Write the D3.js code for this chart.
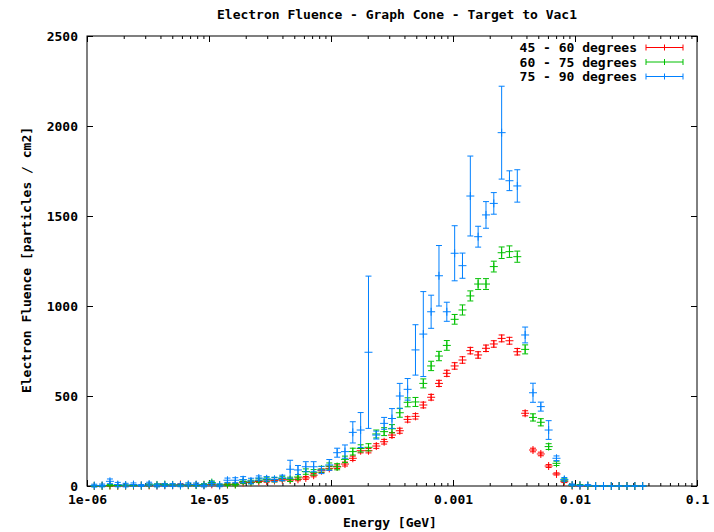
<!DOCTYPE html>
<html><head><meta charset="utf-8">
<script src="https://cdn.jsdelivr.net/npm/d3@7"></script>
<style>
body{margin:0;background:#fff}
text{font-family:"DejaVu Sans Mono","Liberation Mono",monospace;font-size:13px;font-weight:bold;fill:#000}
</style>
</head><body><svg id="c" width="714" height="532"></svg>
<script>
// ---- data ----
const title = "Electron Fluence - Graph Cone - Target to Vac1";
const xLabel = "Energy [GeV]";
const yLabel = "Electron Fluence [particles / cm2]";
const xTickValues = [1e-6, 1e-5, 1e-4, 1e-3, 1e-2, 1e-1];
const xTickLabels = ["1e-06", "1e-05", "0.0001", "0.001", "0.01", "0.1"];
const yTickValues = [0, 500, 1000, 1500, 2000, 2500];
const seriesNames = ["45 - 60 degrees", "60 - 75 degrees", "75 - 90 degrees"];
const seriesColors = ["#ff0000", "#00c000", "#0080ff"];

const energy = [
  1.147e-6, 1.330e-6, 1.542e-6, 1.788e-6, 2.073e-6, 2.404e-6, 2.787e-6, 3.231e-6, 3.746e-6, 4.343e-6,
  5.034e-6, 5.836e-6, 6.766e-6, 7.844e-6, 9.094e-6, 1.054e-5, 1.222e-5, 1.417e-5, 1.643e-5, 1.905e-5,
  2.208e-5, 2.560e-5, 2.968e-5, 3.441e-5, 3.989e-5, 4.626e-5, 5.362e-5, 6.217e-5, 7.207e-5, 8.356e-5,
  9.685e-5, 1.123e-4, 1.302e-4, 1.509e-4, 1.750e-4, 2.029e-4, 2.351e-4, 2.726e-4, 3.161e-4, 3.664e-4,
  4.248e-4, 4.925e-4, 5.710e-4, 6.619e-4, 7.674e-4, 8.899e-4, 1.032e-3, 1.196e-3, 1.387e-3, 1.607e-3,
  1.864e-3, 2.160e-3, 2.505e-3, 2.903e-3, 3.366e-3, 3.903e-3, 4.525e-3, 5.246e-3, 6.081e-3, 7.050e-3,
  8.174e-3, 9.476e-3, 1.098e-2, 1.274e-2, 1.476e-2, 1.712e-2, 1.985e-2, 2.301e-2, 2.668e-2, 3.093e-2,
  3.585e-2
];

const red = [
  0, 1, 2, 1, 2, 2, 2, 3, 2, 4,
  4, 8, 4, 6, 5, 9, 4, 8, 10, 19,
  20, 25, 28, 30, 35, 33, 37, 45, 60, 85,
  98, 107, 122, 154, 196, 196, 222, 246, 283, 307,
  370, 387, 450, 493, 570, 626, 667, 700, 752, 728,
  765, 789, 820, 807, 746, 404, 200, 178, 111, 67,
  24, 2, 1, 0, 0, 0, 0, 0, 0, 0,
  0
];
const redErr = [
  2, 2, 2, 2, 2, 2, 2, 3, 2, 3,
  3, 4, 3, 4, 3, 5, 3, 4, 5, 6,
  6, 6, 7, 7, 7, 7, 8, 8, 9, 10,
  10, 10, 11, 12, 12, 12, 13, 13, 14, 14,
  15, 15, 16, 16, 17, 17, 18, 18, 18, 18,
  18, 18, 19, 19, 18, 14, 10, 10, 8, 6,
  5, 2, 1, 0, 0, 0, 0, 0, 0, 0,
  0
];
const green = [
  1, 1, 4, 3, 3, 4, 2, 6, 6, 8,
  6, 3, 6, 5, 7, 19, 5, 10, 8, 24,
  22, 32, 37, 35, 42, 37, 50, 80, 76, 93,
  111, 107, 148, 191, 209, 215, 289, 302, 318, 407,
  465, 467, 570, 667, 722, 781, 926, 978, 1056, 1122,
  1122, 1219, 1296, 1302, 1274, 759, 381, 354, 219, 126,
  33, 4, 5, 1, 0, 0, 0, 0, 0, 0,
  0
];
const greenErr = [
  3, 3, 4, 3, 3, 4, 3, 5, 6, 6,
  6, 4, 5, 5, 6, 9, 5, 7, 7, 10,
  10, 11, 12, 12, 12, 12, 13, 15, 15, 16,
  17, 17, 18, 19, 20, 20, 22, 22, 23, 25,
  25, 25, 25, 26, 26, 27, 27, 28, 28, 30,
  30, 30, 32, 32, 31, 25, 20, 20, 16, 12,
  7, 3, 3, 1, 0, 0, 0, 0, 0, 0,
  0
];
const blue = [
  2, 3, 26, 8, 5, 8, 3, 11, 3, 5,
  5, 4, 9, 8, 3, 14, 4, 32, 32, 35,
  28, 44, 40, 37, 45, 93, 89, 107, 107, 89,
  117, 185, 191, 298, 311, 743, 283, 348, 375, 500,
  537, 756, 844, 968, 1168, 968, 1293, 1224, 1611, 1385,
  1506, 1570, 1963, 1696, 1667, 839, 518, 441, 311, 154,
  37, 6, 2, 4, 0, 0, 0, 0, 0, 0,
  0
];
const blueErr = [
  8, 8, 13, 12, 10, 9, 5, 10, 8, 8,
  8, 8, 9, 9, 8, 10, 8, 12, 14, 17,
  15, 12, 12, 12, 15, 50, 25, 28, 28, 20,
  30, 25, 37, 59, 97, 423, 22, 33, 55, 70,
  60, 140, 236, 92, 168, 53, 153, 70, 222, 58,
  74, 60, 258, 55, 90, 44, 53, 25, 52, 13,
  10, 5, 3, 4, 0, 0, 0, 0, 0, 0,
  0
];

// ---- layout ----
const W = 714, H = 532;
const L = 87, R = 697, T = 36, B = 486;
const svg = d3.select("#c");
const x = d3.scaleLog().domain([1e-6, 0.1]).range([L, R]);
const y = d3.scaleLinear().domain([0, 2500]).range([B, T]);

const minorTicks = [];
for (let d = -6; d < -1; d++) for (let m = 2; m <= 9; m++) minorTicks.push(m * Math.pow(10, d));

function styleAxis(g) {
  g.select(".domain").remove();
  g.selectAll(".tick line").attr("stroke", "#000");
  g.selectAll(".tick text").attr("fill", "#000").style("font-family", null).style("font-size", null);
  g.attr("font-family", null).attr("font-size", null);
}

// bottom major
svg.append("g").attr("transform", `translate(0,${B})`)
  .call(d3.axisBottom(x).tickValues(xTickValues).tickFormat((d, i) => xTickLabels[i])
    .tickSizeInner(-6).tickSizeOuter(0).tickPadding(9)).call(styleAxis);
// bottom minor
svg.append("g").attr("transform", `translate(0,${B})`)
  .call(d3.axisBottom(x).tickValues(minorTicks).tickFormat(() => "").tickSizeInner(-3).tickSizeOuter(0)).call(styleAxis);
// top mirror
svg.append("g").attr("transform", `translate(0,${T})`)
  .call(d3.axisTop(x).tickValues(xTickValues).tickFormat(() => "").tickSizeInner(-6).tickSizeOuter(0)).call(styleAxis);
svg.append("g").attr("transform", `translate(0,${T})`)
  .call(d3.axisTop(x).tickValues(minorTicks).tickFormat(() => "").tickSizeInner(-3).tickSizeOuter(0)).call(styleAxis);
// left
svg.append("g").attr("transform", `translate(${L},0)`)
  .call(d3.axisLeft(y).tickValues(yTickValues).tickFormat(d3.format("d"))
    .tickSizeInner(-6).tickSizeOuter(0).tickPadding(9)).call(styleAxis);
// right mirror
svg.append("g").attr("transform", `translate(${R},0)`)
  .call(d3.axisRight(y).tickValues(yTickValues).tickFormat(() => "").tickSizeInner(-6).tickSizeOuter(0)).call(styleAxis);

// border
svg.append("rect").attr("x", L).attr("y", T).attr("width", R - L).attr("height", B - T)
  .attr("fill", "none").attr("stroke", "#000").attr("stroke-width", 1);

// titles
svg.append("text").attr("x", 397).attr("y", 19).attr("text-anchor", "middle").text(title);
svg.append("text").attr("x", 390).attr("y", 527).attr("text-anchor", "middle").text(xLabel);
svg.append("text").attr("transform", "translate(31,260) rotate(-90)").attr("text-anchor", "middle").text(yLabel);

// series
const series = [
  {vals: red, errs: redErr},
  {vals: green, errs: greenErr},
  {vals: blue, errs: blueErr}
];
const CAP = 3, PT = 4;
series.forEach((s, si) => {
  const col = seriesColors[si];
  const g = svg.append("g").attr("stroke", col).attr("stroke-width", 1).attr("fill", "none");
  const pts = energy.map((e, i) => ({e, v: s.vals[i], err: s.errs[i]}));
  const p = g.selectAll("g.pt").data(pts).join("g").attr("class", "pt");
  p.append("line").attr("x1", d => x(d.e)).attr("x2", d => x(d.e))
    .attr("y1", d => y(d.v - d.err)).attr("y2", d => y(d.v + d.err));
  p.append("line").attr("x1", d => x(d.e) - CAP).attr("x2", d => x(d.e) + CAP)
    .attr("y1", d => y(d.v + d.err)).attr("y2", d => y(d.v + d.err));
  p.append("line").attr("x1", d => x(d.e) - CAP).attr("x2", d => x(d.e) + CAP)
    .attr("y1", d => y(d.v - d.err)).attr("y2", d => y(d.v - d.err));
  p.append("line").attr("x1", d => x(d.e) - PT).attr("x2", d => x(d.e) + PT)
    .attr("y1", d => y(d.v)).attr("y2", d => y(d.v));
  p.append("line").attr("x1", d => x(d.e)).attr("x2", d => x(d.e))
    .attr("y1", d => y(d.v) - PT).attr("y2", d => y(d.v) + PT);
});

// legend
const legY = [47.5, 62, 76.5];
seriesNames.forEach((n, i) => {
  const col = seriesColors[i];
  svg.append("text").attr("x", 637).attr("y", legY[i]).attr("dy", "0.35em").attr("text-anchor", "end").text(n);
  const g = svg.append("g").attr("stroke", col).attr("stroke-width", 1);
  const x1 = 646, x2 = 683, xm = (x1 + x2) / 2, yy = legY[i];
  g.append("line").attr("x1", x1).attr("x2", x2).attr("y1", yy).attr("y2", yy);
  [x1, xm, x2].forEach(xx => g.append("line").attr("x1", xx).attr("x2", xx).attr("y1", yy - 3).attr("y2", yy + 3));
});
</script>
</body></html>
